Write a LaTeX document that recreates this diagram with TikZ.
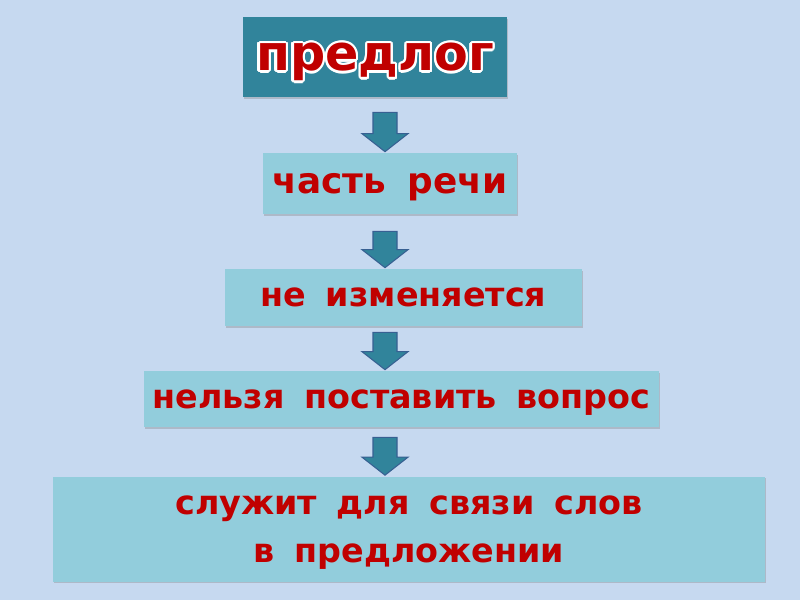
\documentclass[tikz,border=0pt]{standalone}
\usepackage{fontspec}
\newfontfamily\boxfont[WordSpace=1.7]{DejaVu Sans}
\usepackage[copies]{contour}
\contourlength{1.3pt}
\definecolor{bgblue}{RGB}{198,217,240}
\definecolor{tealbox}{RGB}{49,132,155}
\definecolor{lightbox}{RGB}{146,205,220}
\definecolor{textred}{RGB}{192,0,0}
\definecolor{arrowedge}{RGB}{55,96,146}
\usetikzlibrary{calc, shadows}

\begin{document}
\begin{tikzpicture}[x=0.02cm, y=-0.02cm,
		box/.style={fill=lightbox, inner sep=0pt, align=center, text=textred, text depth=0pt,
			font=\boxfont\bfseries\fontsize{19}{27}\selectfont,
			drop shadow={shadow xshift=0.6pt, shadow yshift=-1pt, opacity=0.35}},
		blockarrow/.style={fill=tealbox, draw=arrowedge, line width=0.6pt, line join=miter}]
	
	% Background
	\fill[bgblue] (0,0) rectangle (800,600);
	\useasboundingbox (0,0) rectangle (800,600);
	
	% Boxes
	\node[box, fill=tealbox, minimum width=5.28cm, minimum height=1.6cm,
		font=\boxfont\bfseries\fontsize{28}{32}\selectfont] (pred) at (375,57) {\contour{white}{предлог}};
	\node[box, minimum width=5.08cm, minimum height=1.22cm,
		font=\boxfont\bfseries\fontsize{20.4}{27}\selectfont] (chast) at (390,183.5) {часть речи};
	\node[box, minimum width=7.14cm, minimum height=1.14cm] (nei) at (403.5,297.5) {не изменяется};
	\node[box, minimum width=10.3cm, minimum height=1.12cm] (nelz) at (401.5,399) {нельзя поставить вопрос};
	\node[box, minimum width=14.24cm, minimum height=2.1cm] (sluzh) at (409,529) {служит для связи слов\\в предложении};
	
	% Arrows
	\coordinate (ax) at (385,0);
	\foreach \a/\b/\g in {pred/chast/15, chast/nei/17, nei/nelz/6, nelz/sluzh/10}
	{
		\draw[blockarrow] ($(\a.south -| ax)+(-12,\g)$) -- ($(\a.south -| ax)+(12,\g)$)
			-- ($(\b.north -| ax)+(12,-19)$) -- ($(\b.north -| ax)+(23,-19)$)
			-- ($(\b.north -| ax)+(0,-1)$) -- ($(\b.north -| ax)+(-23,-19)$)
			-- ($(\b.north -| ax)+(-12,-19)$) -- cycle;
	}
	
\end{tikzpicture}
\end{document}
